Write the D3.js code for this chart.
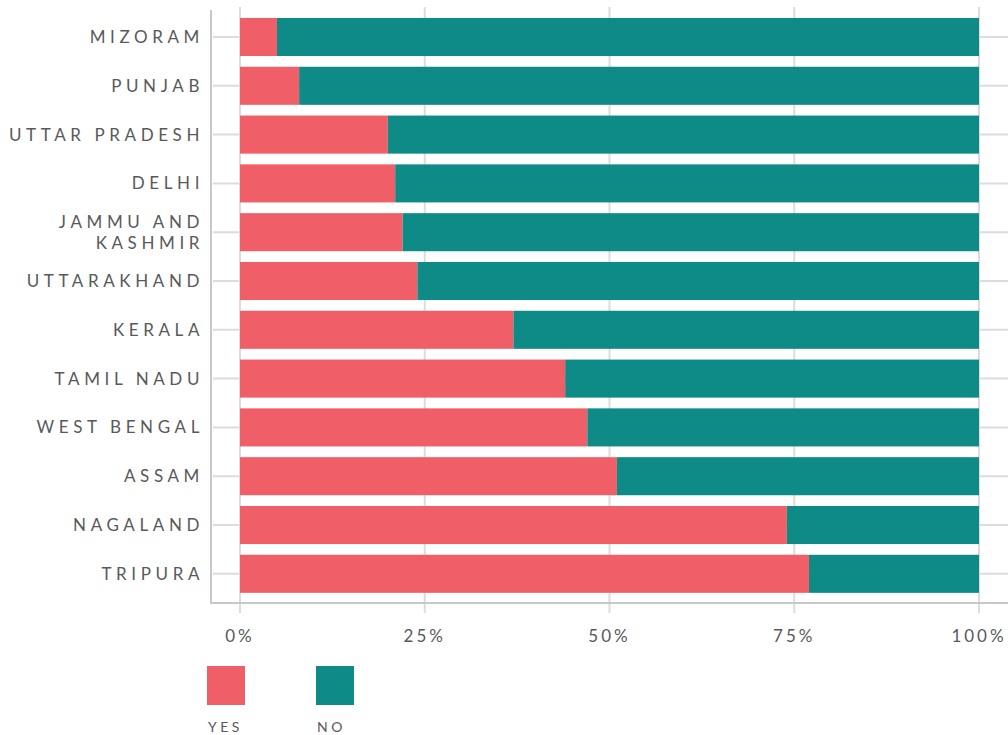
<!DOCTYPE html>
<html>
<head>
<meta charset="utf-8">
<script src="https://cdn.jsdelivr.net/npm/d3@7"></script>
<style>
  body { margin: 0; background: #fff; }
  text { font-family: Lato, "Open Sans", sans-serif; fill: #58595b; }
</style>
</head>
<body>
<div id="chart-area"></div>
<script>
// Data
let states = ['MIZORAM', 'PUNJAB', 'UTTAR PRADESH', 'DELHI', 'JAMMU AND KASHMIR', 'UTTARAKHAND',
    'KERALA', 'TAMIL NADU', 'WEST BENGAL', 'ASSAM', 'NAGALAND', 'TRIPURA'];
let yesShare = [5, 8, 20, 21, 22, 24, 37, 44, 47, 51, 74, 77];
let noShare = yesShare.map(function(v){ return 100 - v; });
let tickValues = [0, 25, 50, 75, 100];
let tickLabels = ['0%', '25%', '50%', '75%', '100%'];
let seriesNames = ['YES', 'NO'];
let seriesColors = ['#f05f67', '#0f8b87'];

let svgWidth = 1008;
let svgHeight = 735;
let margin = { left: 240, right: 29, top: 18, bottom: 142 };
let width = svgWidth - margin.left - margin.right;
let height = svgHeight - margin.top - margin.bottom;

let svg = d3.select('#chart-area')
    .append('svg')
        .attr('width', svgWidth)
        .attr('height', svgHeight);
let g = svg.append('g')
    .attr('transform', 'translate(' + margin.left + ',' + margin.top + ')');

// Scales
let x = d3.scaleLinear().domain([0, 100]).range([0, width]);
let y = d3.scaleBand().domain(states).range([-9.8, height + 9.6]).paddingInner(0.22).paddingOuter(0.2);

let axisX = -29;           // y axis line position
let axisY = height + 10;   // x axis line position

// Horizontal grid lines (behind bars)
g.selectAll('.hgrid').data(states).enter().append('line')
    .attr('x1', axisX + 2).attr('x2', svgWidth - margin.left)
    .attr('y1', function(d){ return y(d) + y.bandwidth() / 2; })
    .attr('y2', function(d){ return y(d) + y.bandwidth() / 2; })
    .attr('stroke', '#dcdcdc').attr('stroke-width', 2);

// Vertical grid lines
g.selectAll('.vgrid').data(tickValues).enter().append('line')
    .attr('x1', function(d){ return x(d); }).attr('x2', function(d){ return x(d); })
    .attr('y1', -11).attr('y2', axisY + 10)
    .attr('stroke', '#dcdcdc').attr('stroke-width', 2);

// Bars
let stackData = states.map(function(s, i){ return { state: s, YES: yesShare[i], NO: noShare[i] }; });
let stacked = d3.stack().keys(seriesNames)(stackData);
g.selectAll('.series').data(stacked).enter().append('g')
    .attr('fill', function(d, i){ return seriesColors[i]; })
  .selectAll('rect').data(function(d){ return d; }).enter().append('rect')
    .attr('x', function(d){ return x(d[0]); })
    .attr('width', function(d){ return x(d[1]) - x(d[0]); })
    .attr('y', function(d){ return y(d.data.state); })
    .attr('height', y.bandwidth());

// Axis lines
g.append('line').attr('x1', axisX).attr('x2', axisX).attr('y1', -8).attr('y2', axisY + 1)
    .attr('stroke', '#c8c8c8').attr('stroke-width', 2);
g.append('line').attr('x1', axisX).attr('x2', svgWidth - margin.left).attr('y1', axisY).attr('y2', axisY)
    .attr('stroke', '#c8c8c8').attr('stroke-width', 2);

// Y labels
let labelWrap = { 'JAMMU AND KASHMIR': ['JAMMU AND', 'KASHMIR'] };
states.forEach(function(s){
    let lines = labelWrap[s] || [s];
    let cy = y(s) + y.bandwidth() / 2;
    let t = g.append('text')
        .attr('text-anchor', 'end')
        .attr('font-size', '17px')
        .style('letter-spacing', '4.6px');
    lines.forEach(function(line, i){
        t.append('tspan')
            .attr('x', -36)
            .attr('y', cy + 6 + (i - (lines.length - 1) / 2) * 21)
            .text(line);
    });
});

// X tick labels
g.selectAll('.xlab').data(tickValues).enter().append('text')
    .attr('x', function(d){ return x(d); })
    .attr('y', axisY + 39)
    .attr('text-anchor', 'middle')
    .attr('font-size', '17px')
    .style('letter-spacing', '3px')
    .text(function(d, i){ return tickLabels[i]; });

// Legend
let legend = svg.append('g').attr('transform', 'translate(207, 666)');
seriesNames.forEach(function(name, i){
    let row = legend.append('g').attr('transform', 'translate(' + (i * 109) + ',0)');
    row.append('rect').attr('width', 38).attr('height', 39).attr('fill', seriesColors[i]);
    row.append('text').attr('x', 1).attr('y', 66)
        .attr('font-size', '14px')
        .style('letter-spacing', '3.5px')
        .text(name);
});
</script>
</body>
</html>
